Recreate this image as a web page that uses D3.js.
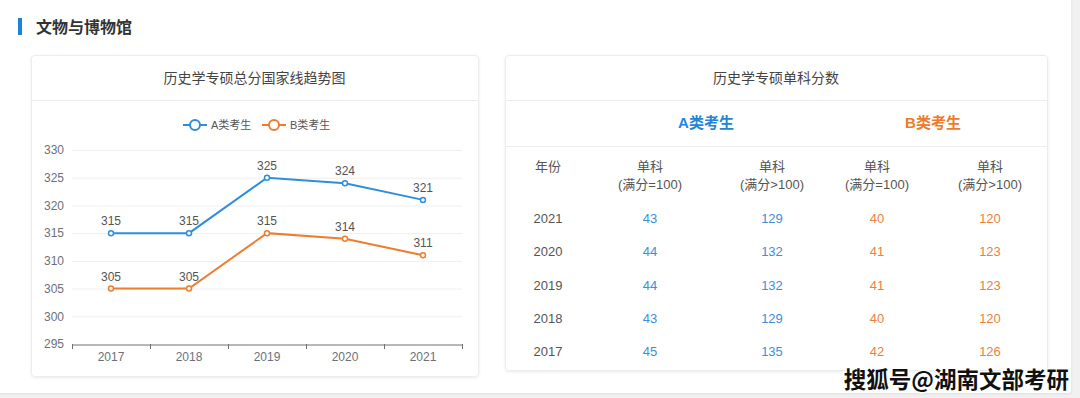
<!DOCTYPE html>
<html>
<head>
<meta charset="utf-8">
<script src="https://cdn.jsdelivr.net/npm/d3@7"></script>
<style>
  html, body { margin: 0; padding: 0; background: #f1f1f1; }
  svg { display: block; font-family: "Liberation Sans", "Noto Sans CJK SC", sans-serif; }
</style>
</head>
<body>
<svg id="page" width="1080" height="398"></svg>
<script>
// chart data
const years = ['2017', '2018', '2019', '2020', '2021']
const scoreA = [315, 315, 325, 324, 321]
const scoreB = [305, 305, 315, 314, 311]
const yTicks = [295, 300, 305, 310, 315, 320, 325, 330]

// table data (newest first)
const tableYears = ['2021', '2020', '2019', '2018', '2017']
const a100 = [43, 44, 44, 43, 45]
const aOver = [129, 132, 132, 129, 135]
const b100 = [40, 41, 41, 40, 42]
const bOver = [120, 123, 123, 120, 126]

const BLUE = '#2f8edb'
const ORANGE = '#ed7d31'
const TXT_BLUE = '#3d8fd6'
const TXT_ORANGE = '#e8823f'

const svg = d3.select('#page')

// page card
const defs = svg.append('defs')
const f = defs.append('filter').attr('id', 'sh').attr('x', -0.05).attr('y', -0.05).attr('width', 1.1).attr('height', 1.1)
f.append('feDropShadow').attr('dx', 0).attr('dy', 1).attr('stdDeviation', 1.5).attr('flood-color', '#000').attr('flood-opacity', 0.08)

svg.append('rect').attr('x', -5).attr('y', -5).attr('width', 1076).attr('height', 398)
  .attr('rx', 4).attr('fill', '#fff').attr('filter', 'url(#sh)')

// section heading
svg.append('rect').attr('x', 18).attr('y', 18).attr('width', 4).attr('height', 17).attr('fill', '#1c84d8')
svg.append('text').attr('x', 36).attr('y', 33).attr('font-size', 16).attr('font-weight', 'bold')
  .attr('fill', '#333').text('文物与博物馆')

function panel(x, y, w, h, title) {
  const g = svg.append('g')
  g.append('rect').attr('x', x + 0.5).attr('y', y + 0.5).attr('width', w).attr('height', h)
    .attr('rx', 3).attr('fill', '#fff').attr('stroke', '#ececec').attr('filter', 'url(#sh)')
  g.append('line').attr('x1', x + 1).attr('x2', x + w).attr('y1', y + 45.5).attr('y2', y + 45.5).attr('stroke', '#ededed')
  g.append('text').attr('x', x + w / 2).attr('y', y + 28).attr('text-anchor', 'middle')
    .attr('font-size', 14).attr('fill', '#444').text(title)
  return g
}

// ---------- left: line chart ----------
panel(31, 55, 447, 321, '历史学专硕总分国家线趋势图')

const x = d3.scaleBand().domain(years).range([72, 462]).padding(0)
const y = d3.scaleLinear().domain([295, 330]).range([344, 150])
const cx = d => x(d) + x.bandwidth() / 2

const chart = svg.append('g')

chart.selectAll('line.grid').data(yTicks.slice(1)).enter().append('line')
  .attr('class', 'grid')
  .attr('x1', 72).attr('x2', 462)
  .attr('y1', d => y(d) + 0.5).attr('y2', d => y(d) + 0.5)
  .attr('stroke', '#efefef')

const yAxis = chart.append('g').attr('transform', 'translate(72,0)')
  .call(d3.axisLeft(y).tickValues(yTicks).tickSize(0).tickPadding(8))
yAxis.select('.domain').remove()
yAxis.selectAll('text').attr('font-size', 12).attr('fill', '#6e7079')
  .attr('font-family', '"Liberation Sans", sans-serif')

const xAxis = chart.append('g').attr('transform', 'translate(0,344.5)')
  .call(d3.axisBottom(x).tickSize(0).tickPadding(8))
xAxis.select('.domain').attr('stroke', '#6e7079')
xAxis.selectAll('text').attr('font-size', 12).attr('fill', '#6e7079')
  .attr('font-family', '"Liberation Sans", sans-serif')
chart.selectAll('line.xtick').data(years.map(d => x(d)).concat([x.range()[1]])).enter().append('line')
  .attr('class', 'xtick')
  .attr('x1', d => Math.round(d) + 0.5).attr('x2', d => Math.round(d) + 0.5)
  .attr('y1', 344).attr('y2', 349).attr('stroke', '#6e7079')

const line = d3.line().x((d, i) => cx(years[i])).y(d => y(d))

const seriesList = [
  { name: 'A类考生', values: scoreA, color: BLUE },
  { name: 'B类考生', values: scoreB, color: ORANGE }
]

seriesList.forEach(s => {
  chart.append('path').datum(s.values).attr('d', line)
    .attr('fill', 'none').attr('stroke', s.color).attr('stroke-width', 2)
  chart.selectAll(null).data(s.values).enter().append('circle')
    .attr('cx', (d, i) => cx(years[i])).attr('cy', d => y(d)).attr('r', 2.5)
    .attr('fill', '#fff').attr('stroke', s.color).attr('stroke-width', 1.5)
  chart.selectAll(null).data(s.values).enter().append('text')
    .attr('x', (d, i) => cx(years[i])).attr('y', d => y(d) - 8)
    .attr('text-anchor', 'middle').attr('font-size', 12).attr('fill', '#555')
    .text(d => d)
})

// legend
const legend = svg.append('g').attr('transform', 'translate(183,125)')
const li = legend.selectAll('g').data(seriesList).enter().append('g')
  .attr('transform', (d, i) => `translate(${i * 79},0)`)
li.append('line').attr('x1', 0).attr('x2', 24).attr('y1', 0).attr('y2', 0)
  .attr('stroke', d => d.color).attr('stroke-width', 2)
li.append('circle').attr('cx', 12).attr('cy', 0).attr('r', 5)
  .attr('fill', '#fff').attr('stroke', d => d.color).attr('stroke-width', 2)
li.append('text').attr('x', 28).attr('y', 4).attr('font-size', 11).attr('fill', '#555')
  .text(d => d.name)

// ---------- right: table ----------
const tp = panel(505, 55, 542, 315, '历史学专硕单科分数')
tp.append('line').attr('x1', 506).attr('x2', 1047).attr('y1', 146.5).attr('y2', 146.5).attr('stroke', '#ededed')

tp.append('text').attr('x', 706).attr('y', 128).attr('text-anchor', 'middle')
  .attr('font-size', 15).attr('font-weight', 'bold').attr('fill', '#1f85d9').text('A类考生')
tp.append('text').attr('x', 933).attr('y', 128).attr('text-anchor', 'middle')
  .attr('font-size', 15).attr('font-weight', 'bold').attr('fill', '#ee7a2c').text('B类考生')

const colX = [548, 650, 772, 877, 990]
const headers = [['年份'], ['单科', '(满分=100)'], ['单科', '(满分>100)'], ['单科', '(满分=100)'], ['单科', '(满分>100)']]
headers.forEach((h, c) => {
  h.forEach((t, k) => {
    tp.append('text').attr('x', colX[c]).attr('y', 171 + k * 18).attr('text-anchor', 'middle')
      .attr('font-size', 13).attr('fill', '#555').text(t)
  })
})

const rowY = d3.scaleBand().domain(tableYears).range([202, 369]).padding(0)
const columns = [
  { vals: tableYears, color: '#555' },
  { vals: a100, color: TXT_BLUE },
  { vals: aOver, color: TXT_BLUE },
  { vals: b100, color: TXT_ORANGE },
  { vals: bOver, color: TXT_ORANGE }
]
columns.forEach((col, c) => {
  tp.selectAll(null).data(col.vals).enter().append('text')
    .attr('x', colX[c])
    .attr('y', (d, i) => rowY(tableYears[i]) + rowY.bandwidth() / 2 + 4)
    .attr('text-anchor', 'middle').attr('font-size', 13).attr('fill', col.color)
    .text(d => d)
})

// watermark
svg.append('text').attr('x', 1069).attr('y', 388).attr('text-anchor', 'end')
  .attr('font-family', '"Noto Sans CJK SC", sans-serif')
  .attr('font-size', 22.5).attr('font-weight', 'bold').attr('fill', '#111')
  .attr('stroke', '#fff').attr('stroke-width', 3).attr('paint-order', 'stroke')
  .text('搜狐号@湖南文部考研')
</script>
</body>
</html>
